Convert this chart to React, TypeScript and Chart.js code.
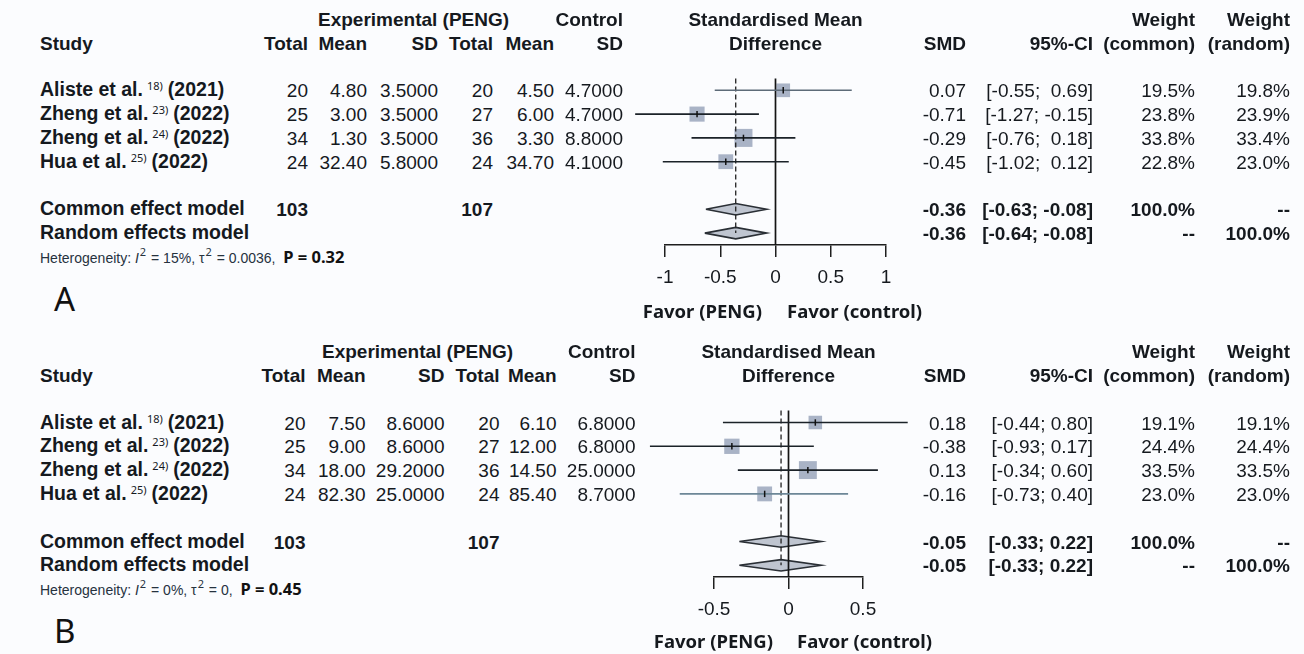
import React, { useEffect, useRef } from "react";
import { Chart, registerables } from "chart.js";

Chart.register(...registerables);

// ---------------- DATA ----------------
const studyNames = ["Aliste et al.", "Zheng et al.", "Zheng et al.", "Hua et al."];
const studyRefs = ["18)", "23)", "24)", "25)"];
const studyYears = ["(2021)", "(2022)", "(2022)", "(2022)"];
const expTotal = [20, 25, 34, 24];
const ctrlTotal = [20, 27, 36, 24];
const expTotalSum = 103;
const ctrlTotalSum = 107;

// Panel A
const aExpMean = [4.8, 3.0, 1.3, 32.4];
const aExpSD = [3.5, 3.5, 3.5, 5.8];
const aCtrlMean = [4.5, 6.0, 3.3, 34.7];
const aCtrlSD = [4.7, 4.7, 8.8, 4.1];
const aSMD = [0.07, -0.71, -0.29, -0.45];
const aLower = [-0.55, -1.27, -0.76, -1.02];
const aUpper = [0.69, -0.15, 0.18, 0.12];
const aWeightCommon = [19.5, 23.8, 33.8, 22.8];
const aWeightRandom = [19.8, 23.9, 33.4, 23.0];
const aCommon = [-0.36, -0.63, -0.08]; // estimate, lower, upper
const aRandom = [-0.36, -0.64, -0.08];
const aTicks = [-1, -0.5, 0, 0.5, 1];
const aTickLabels = ["-1", "-0.5", "0", "0.5", "1"];
const aI2 = "15%";
const aTau2 = "0.0036";
const aP = "0.32";

// Panel B
const bExpMean = [7.5, 9.0, 18.0, 82.3];
const bExpSD = [8.6, 8.6, 29.2, 25.0];
const bCtrlMean = [6.1, 12.0, 14.5, 85.4];
const bCtrlSD = [6.8, 6.8, 25.0, 8.7];
const bSMD = [0.18, -0.38, 0.13, -0.16];
const bLower = [-0.44, -0.93, -0.34, -0.73];
const bUpper = [0.8, 0.17, 0.6, 0.4];
const bWeightCommon = [19.1, 24.4, 33.5, 23.0];
const bWeightRandom = [19.1, 24.4, 33.5, 23.0];
const bCommon = [-0.05, -0.33, 0.22];
const bRandom = [-0.05, -0.33, 0.22];
const bTicks = [-0.5, 0, 0.5];
const bTickLabels = ["-0.5", "0", "0.5"];
const bI2 = "0%";
const bTau2 = "0";
const bP = "0.45";

// ---------------- STYLE / LAYOUT ----------------
const SANS = "'Liberation Sans', Arial, sans-serif";
const NOTO = "'Noto Sans', sans-serif";
const TXT = "#15191e";
const HET = "#26323e";
const SQUARE = "#a9b3c6";
const DIAMOND = "#bfc5d0";
const FS = 19;
const FS_LABEL = 19.5;
const CANVAS_LEFT = 600;
const CANVAS_W = 340;
const CANVAS_H = 300;
const ROW_COMMON = 5;
const ROW_RANDOM = 6;
const ROW_HET = 7;
const DIAMOND_HALF = 0.24;
const SQ_SCALE = 2.19;

type Panel = {
  letter: string;
  top: number;
  row0: number;
  rowH: number;
  axisY: number;
  plotTop: number;
  axisLeft: number;
  axisRight: number;
  zeroX: number;
  c: { t1: number; m1: number; s1: number; t2: number; m2: number; s2: number };
  expLabelX: number;
  favorR: number;
  favorL: number;
  favorY: number;
  letterY: number;
  expMean: number[];
  expSD: number[];
  ctrlMean: number[];
  ctrlSD: number[];
  smd: number[];
  lower: number[];
  upper: number[];
  wC: number[];
  wR: number[];
  common: number[];
  random: number[];
  ticks: number[];
  tickLabels: string[];
  i2: string;
  tau2: string;
  p: string;
  lineColors: string[];
};

const panelA: Panel = {
  letter: "A",
  top: 0,
  row0: 90.3,
  rowH: 23.8,
  axisY: 245,
  plotTop: 70,
  axisLeft: 665,
  axisRight: 886,
  zeroX: 775.5,
  c: { t1: 308, m1: 367, s1: 438, t2: 493, m2: 554, s2: 623 },
  expLabelX: 318,
  favorR: 762,
  favorL: 787,
  favorY: 311,
  letterY: 298,
  expMean: aExpMean,
  expSD: aExpSD,
  ctrlMean: aCtrlMean,
  ctrlSD: aCtrlSD,
  smd: aSMD,
  lower: aLower,
  upper: aUpper,
  wC: aWeightCommon,
  wR: aWeightRandom,
  common: aCommon,
  random: aRandom,
  ticks: aTicks,
  tickLabels: aTickLabels,
  i2: aI2,
  tau2: aTau2,
  p: aP,
  lineColors: ["#5d6b78", "#1b2228", "#1b2228", "#1b2228"],
};

const panelB: Panel = {
  letter: "B",
  top: 333,
  row0: 89.5,
  rowH: 23.8,
  axisY: 244,
  plotTop: 70,
  axisLeft: 714,
  axisRight: 863,
  zeroX: 788.5,
  c: { t1: 305.5, m1: 365.5, s1: 444.5, t2: 499.5, m2: 556.5, s2: 635.5 },
  expLabelX: 322,
  favorR: 773,
  favorL: 797,
  favorY: 308,
  letterY: 297,
  expMean: bExpMean,
  expSD: bExpSD,
  ctrlMean: bCtrlMean,
  ctrlSD: bCtrlSD,
  smd: bSMD,
  lower: bLower,
  upper: bUpper,
  wC: bWeightCommon,
  wR: bWeightRandom,
  common: bCommon,
  random: bRandom,
  ticks: bTicks,
  tickLabels: bTickLabels,
  i2: bI2,
  tau2: bTau2,
  p: bP,
  lineColors: ["#1b2228", "#1b2228", "#1b2228", "#6d8797"],
};

const f2 = (v: number) => v.toFixed(2);
const f4 = (v: number) => v.toFixed(4);
const pct = (v: number) => v.toFixed(1) + "%";
function ciStrings(lo: number[], hi: number[]) {
  const los = lo.map(f2);
  const his = hi.map(f2);
  const wl = Math.max(...los.map((s) => s.length));
  const wh = Math.max(...his.map((s) => s.length));
  return los.map((l, i) => `[${l.padStart(wl)}; ${his[i].padStart(wh)}]`);
}

function makeConfig(p: Panel): any {
  const yMin = (p.plotTop - p.row0) / p.rowH;
  const yMax = (p.axisY - p.row0) / p.rowH;
  const pts = p.smd.map((v, i) => ({ x: v, y: i }));
  const datasets: any[] = [];
  datasets.push({
    data: [
      { x: 0, y: -0.5 },
      { x: 0, y: yMax },
    ],
    showLine: true,
    borderColor: "#141414",
    borderWidth: 1.7,
    pointRadius: 0,
    clip: false,
    order: 3,
  });
  datasets.push({
    data: [
      { x: p.common[0], y: -0.5 },
      { x: p.common[0], y: ROW_RANDOM },
    ],
    showLine: true,
    borderColor: "#222",
    borderDash: [5, 3],
    borderWidth: 1.3,
    pointRadius: 0,
    clip: false,
    order: 3,
  });
  p.smd.forEach((_, i) => {
    datasets.push({
      data: [
        { x: p.lower[i], y: i },
        { x: p.upper[i], y: i },
      ],
      showLine: true,
      borderColor: p.lineColors[i],
      borderWidth: 1.6,
      pointRadius: 0,
      clip: false,
      order: 2,
    });
  });
  datasets.push({
    data: pts,
    showLine: false,
    pointStyle: "rect",
    pointRadius: p.wC.map((w) => SQ_SCALE * Math.sqrt(w)),
    pointBackgroundColor: SQUARE,
    pointBorderWidth: 0,
    clip: false,
    order: 6,
  });
  datasets.push({
    data: pts,
    showLine: false,
    pointStyle: "line",
    pointRotation: 90,
    pointRadius: 3.2,
    pointBorderColor: "#111",
    pointBorderWidth: 1.5,
    clip: false,
    order: 1,
  });
  const diamonds: [number[], number][] = [
    [p.common, ROW_COMMON],
    [p.random, ROW_RANDOM],
  ];
  diamonds.forEach(([d, r]) => {
    datasets.push({
      data: [
        { x: d[1], y: r },
        { x: d[0], y: r - DIAMOND_HALF },
        { x: d[2], y: r },
        { x: d[0], y: r + DIAMOND_HALF },
        { x: d[1], y: r },
      ],
      showLine: true,
      fill: "shape",
      backgroundColor: DIAMOND,
      borderColor: "#2a2f35",
      borderWidth: 1.6,
      pointRadius: 0,
      tension: 0,
      clip: false,
      order: 4,
    });
  });

  return {
    type: "scatter",
    data: { datasets },
    options: {
      animation: false,
      responsive: false,
      events: [],
      layout: {
        padding: {
          left: p.axisLeft - CANVAS_LEFT,
          right: CANVAS_LEFT + CANVAS_W - p.axisRight,
          top: p.plotTop,
          bottom: 0,
        },
      },
      plugins: { legend: { display: false }, tooltip: { enabled: false } },
      scales: {
        x: {
          type: "linear",
          position: "bottom",
          min: p.ticks[0],
          max: p.ticks[p.ticks.length - 1],
          afterBuildTicks: (ax: any) => {
            ax.ticks = p.ticks.map((v) => ({ value: v }));
          },
          afterFit: (ax: any) => {
            ax.height = CANVAS_H - p.axisY;
          },
          ticks: {
            autoSkip: false,
            maxRotation: 0,
            padding: 9,
            color: TXT,
            font: { family: SANS, size: FS },
            callback: (_v: any, i: number) => p.tickLabels[i],
          },
          grid: {
            drawOnChartArea: false,
            drawTicks: true,
            tickLength: 12,
            color: "#1e1e1e",
            lineWidth: 1.5,
          },
          border: { display: true, color: "#1e1e1e", width: 1.5 },
        },
        y: {
          type: "linear",
          display: false,
          reverse: true,
          min: yMin,
          max: yMax,
        },
      },
    },
  };
}

// ---------------- TEXT HELPERS ----------------
function T(props: {
  x: number;
  y: number;
  align?: "left" | "right" | "center";
  bold?: boolean;
  size?: number;
  family?: string;
  color?: string;
  children: React.ReactNode;
}) {
  const { x, y, align = "left", bold = false, size = FS, family = SANS, color = TXT } = props;
  const tx = align === "left" ? "0" : align === "right" ? "-100%" : "-50%";
  return (
    <div
      style={{
        position: "absolute",
        left: x,
        top: y,
        transform: `translate(${tx}, -50%)`,
        fontSize: size,
        fontWeight: bold ? 700 : 400,
        fontFamily: family,
        color,
        lineHeight: 1,
        whiteSpace: "pre",
      }}
    >
      {props.children}
    </div>
  );
}

function Sup({
  children,
  top = -6,
  size = 11,
  margin = "0 5px 0 4px",
}: {
  children: React.ReactNode;
  top?: number;
  size?: number;
  margin?: string;
}) {
  return (
    <span
      style={{
        fontFamily: NOTO,
        fontWeight: 400,
        fontSize: size,
        position: "relative",
        top,
        margin,
      }}
    >
      {children}
    </span>
  );
}

function ForestPanel({ p }: { p: Panel }) {
  const ref = useRef<HTMLCanvasElement>(null);
  useEffect(() => {
    const chart = new Chart(ref.current as HTMLCanvasElement, makeConfig(p));
    return () => chart.destroy();
  }, []);
  const ry = (i: number) => p.row0 + i * p.rowH;
  const cis = ciStrings(p.lower, p.upper);
  const R = { smd: 966, ci: 1093, wc: 1195, wr: 1290 };
  return (
    <div style={{ position: "absolute", left: 0, top: p.top, width: 1304, height: 321 }}>
      <canvas
        ref={ref}
        width={CANVAS_W}
        height={CANVAS_H}
        style={{ position: "absolute", left: CANVAS_LEFT, top: 0, width: CANVAS_W, height: CANVAS_H }}
      />
      {/* header row 1 */}
      <T x={p.expLabelX} y={ry(-3)} bold>Experimental (PENG)</T>
      <T x={p.c.s2} y={ry(-3)} align="right" bold>Control</T>
      <T x={p.zeroX} y={ry(-3)} align="center" bold>Standardised Mean</T>
      <T x={R.wc} y={ry(-3)} align="right" bold>Weight</T>
      <T x={R.wr} y={ry(-3)} align="right" bold>Weight</T>
      {/* header row 2 */}
      <T x={40} y={ry(-2)} bold>Study</T>
      <T x={p.c.t1} y={ry(-2)} align="right" bold>Total</T>
      <T x={p.c.m1} y={ry(-2)} align="right" bold>Mean</T>
      <T x={p.c.s1} y={ry(-2)} align="right" bold>SD</T>
      <T x={p.c.t2} y={ry(-2)} align="right" bold>Total</T>
      <T x={p.c.m2} y={ry(-2)} align="right" bold>Mean</T>
      <T x={p.c.s2} y={ry(-2)} align="right" bold>SD</T>
      <T x={p.zeroX} y={ry(-2)} align="center" bold>Difference</T>
      <T x={R.smd} y={ry(-2)} align="right" bold>SMD</T>
      <T x={R.ci} y={ry(-2)} align="right" bold>95%-CI</T>
      <T x={R.wc} y={ry(-2)} align="right" bold>(common)</T>
      <T x={R.wr} y={ry(-2)} align="right" bold>(random)</T>
      {/* studies */}
      {studyNames.map((n, i) => (
        <React.Fragment key={i}>
          <T x={40} y={ry(i)} bold size={FS_LABEL}>
            {n}
            <Sup>{studyRefs[i]}</Sup>
            {studyYears[i]}
          </T>
          <T x={p.c.t1} y={ry(i)} align="right">{String(expTotal[i])}</T>
          <T x={p.c.m1} y={ry(i)} align="right">{f2(p.expMean[i])}</T>
          <T x={p.c.s1} y={ry(i)} align="right">{f4(p.expSD[i])}</T>
          <T x={p.c.t2} y={ry(i)} align="right">{String(ctrlTotal[i])}</T>
          <T x={p.c.m2} y={ry(i)} align="right">{f2(p.ctrlMean[i])}</T>
          <T x={p.c.s2} y={ry(i)} align="right">{f4(p.ctrlSD[i])}</T>
          <T x={R.smd} y={ry(i)} align="right">{f2(p.smd[i])}</T>
          <T x={R.ci} y={ry(i)} align="right">{cis[i]}</T>
          <T x={R.wc} y={ry(i)} align="right">{pct(p.wC[i])}</T>
          <T x={R.wr} y={ry(i)} align="right">{pct(p.wR[i])}</T>
        </React.Fragment>
      ))}
      {/* summary rows */}
      <T x={40} y={ry(ROW_COMMON)} bold size={FS_LABEL}>Common effect model</T>
      <T x={p.c.t1} y={ry(ROW_COMMON)} align="right" bold>{String(expTotalSum)}</T>
      <T x={p.c.t2} y={ry(ROW_COMMON)} align="right" bold>{String(ctrlTotalSum)}</T>
      <T x={R.smd} y={ry(ROW_COMMON)} align="right" bold>{f2(p.common[0])}</T>
      <T x={R.ci} y={ry(ROW_COMMON)} align="right" bold>{ciStrings([p.common[1]], [p.common[2]])[0]}</T>
      <T x={R.wc} y={ry(ROW_COMMON)} align="right" bold>100.0%</T>
      <T x={R.wr} y={ry(ROW_COMMON)} align="right" bold>--</T>
      <T x={40} y={ry(ROW_RANDOM)} bold size={FS_LABEL}>Random effects model</T>
      <T x={R.smd} y={ry(ROW_RANDOM)} align="right" bold>{f2(p.random[0])}</T>
      <T x={R.ci} y={ry(ROW_RANDOM)} align="right" bold>{ciStrings([p.random[1]], [p.random[2]])[0]}</T>
      <T x={R.wc} y={ry(ROW_RANDOM)} align="right" bold>--</T>
      <T x={R.wr} y={ry(ROW_RANDOM)} align="right" bold>100.0%</T>
      {/* heterogeneity */}
      <T x={40} y={ry(ROW_HET)} size={14} color={HET}>
        Heterogeneity: <i>I</i>
        <Sup top={-7} size={11} margin="0 1px">2</Sup> = {p.i2}, τ
        <Sup top={-7} size={11} margin="0 1px">2</Sup> = {p.tau2},{"  "}
        <span style={{ fontFamily: NOTO, fontWeight: 700, color: "#111", fontSize: 16.5 }}>
          P = {p.p}
        </span>
      </T>
      {/* favours */}
      <T x={p.favorR} y={p.favorY} align="right" bold family={NOTO} size={18.5}>Favor (PENG)</T>
      <T x={p.favorL} y={p.favorY} bold family={NOTO} size={18.5}>Favor (control)</T>
      {/* panel letter */}
      <T x={54} y={p.letterY} family={NOTO} size={33} color="#111">{p.letter}</T>
    </div>
  );
}

export default function App() {
  return (
    <div
      style={{
        position: "relative",
        width: 1304,
        height: 654,
        overflow: "hidden",
        background: "#fbfcfe",
      }}
    >
      <style>{"html,body{margin:0;padding:0;overflow:hidden;}"}</style>
      <ForestPanel p={panelA} />
      <ForestPanel p={panelB} />
    </div>
  );
}
